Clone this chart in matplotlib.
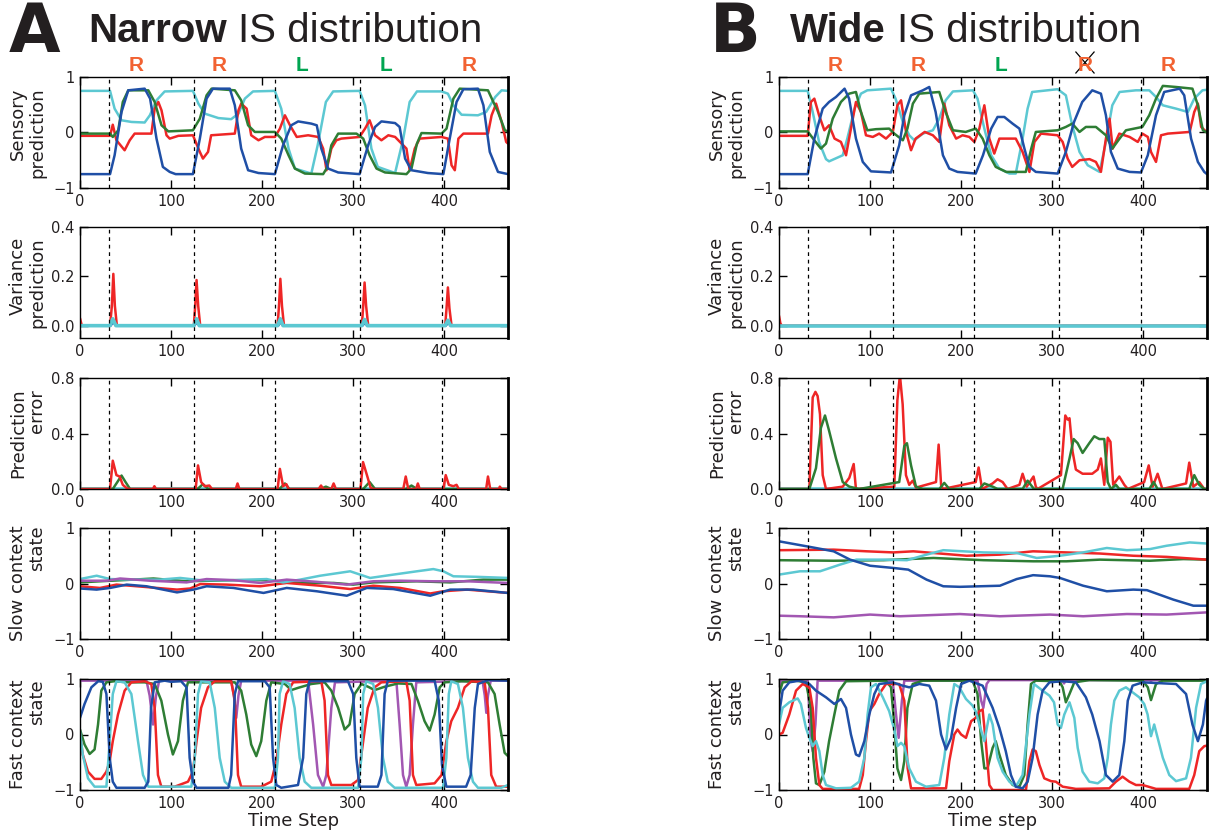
import numpy as np
import matplotlib
matplotlib.use("Agg")
import matplotlib.pyplot as plt
import matplotlib.transforms as mtransforms

plt.rcParams['font.family'] = ['DejaVu Sans']
plt.rcParams['axes.unicode_minus'] = True

# ---------------- data ----------------
x_ticks = [0, 100, 200, 300, 400]
x_max = 470
switch_steps = [32, 125, 214, 307, 398]
cue_steps = [62, 153, 244, 336, 427]
cues_A = ['R', 'R', 'L', 'L', 'R']
cues_B = ['R', 'R', 'L', 'R', 'R']
crossed_B = [False, False, False, True, False]

# Panel A - sensory prediction
A_sens_cyan = [(0,.75),(33,.75),(38,.43),(45.6,.22),(56.6,.19),(71,.18),(76.7,.31),(84,.58),(93,.74),(124,.75),(130,.52),(137,.34),(152,.26),(166,.24),(174,.34),(181,.61),(190,.74),(214,.75),(221,.43),(229,-.29),(236,-.65),(254,-.74),(261,-.23),(270,.55),(278,.74),(307,.75),(313,.49),(320,-.29),(327,-.62),(346,-.73),(355,-.11),(362,.55),(370,.74),(397,.74),(404,.70),(410,.49),(419,.32),(437,.31),(446,.37),(456,.64),(463,.76),(470,.75)]
A_sens_blue = [(0,-.75),(33,-.75),(38,-.41),(45.6,.37),(53,.76),(71,.79),(77,.61),(84,-.11),(91,-.62),(98.5,-.71),(105,-.75),(124,-.75),(131.6,-.11),(139,.61),(146,.79),(164.5,.79),(170,.49),(177,-.29),(184.6,-.68),(196,-.73),(214,-.75),(223,-.23),(232,.13),(239.6,.2),(254,.16),(260,.13),(265,-.29),(272.5,-.65),(283.5,-.72),(307,-.75),(316.4,-.23),(324,.10),(331,.2),(346,.17),(351,.10),(357,-.47),(364,-.68),(382,-.73),(399,-.75),(406,-.11),(413.5,.55),(421,.78),(437,.79),(443,.49),(450,-.35),(459,-.71),(470,-.75)]
A_sens_green = [(0,-.02),(33,-.02),(36,-.08),(42,.04),(47,.55),(53,.76),(75,.76),(82,.55),(89.5,.13),(97,.02),(124,.04),(131.6,.25),(139,.67),(144.5,.79),(170,.76),(177,.58),(184.6,.13),(192,.01),(214,.01),(221,-.11),(229,-.41),(236,-.65),(247,-.74),(267,-.75),(270.7,-.65),(276,-.23),(283.5,-.02),(303.6,-.02),(311,-.11),(318,-.41),(325.6,-.65),(335,-.72),(358.5,-.75),(364,-.65),(370,-.2),(375,-.01),(397,-.02),(402.5,.07),(410,.61),(417,.79),(448,.76),(459,.37),(466.6,.04),(470,.02)]
A_sens_red = [(0,-.06),(33,-.06),(36,.14),(40,-.14),(49,-.32),(54.6,-.14),(60,-.02),(78.4,-.02),(82,.43),(86,.55),(89.5,.40),(95,-.05),(98.5,-.11),(108,-.06),(124,-.05),(131.6,-.35),(135,-.47),(140.6,-.35),(144,-.05),(170,-.02),(174,.40),(177,.52),(183,.43),(188,-.05),(196,-.14),(203,-.08),(214,-.08),(219.5,.07),(225,.31),(230.6,.13),(238,-.08),(250.5,-.05),(261.5,-.08),(267,-.29),(270.7,-.68),(276,-.29),(281.5,-.14),(287,-.11),(307,-.08),(313,.07),(318,.22),(324,-.05),(331,-.14),(338.6,-.05),(346,-.08),(358.5,-.29),(362,-.68),(367.6,-.29),(373,-.11),(397,-.08),(404,-.11),(408,-.59),(411.6,-.68),(415.5,-.11),(421,-.02),(448,-.02),(452,.31),(457,.52),(463,.19),(468,-.17),(470,-.2)]

# Panel B - sensory prediction
B_sens_cyan = [(0,.75),(31.5,.75),(37,.37),(44,-.17),(51.6,-.48),(55,-.52),(70,-.41),(75,-.11),(83,.43),(90,.70),(97,.76),(123,.79),(128,.61),(136,.19),(143,-.05),(148.6,-.14),(158,-.02),(169,.04),(176,.25),(183,.58),(191,.74),(213,.76),(218,.61),(225.5,.07),(233,-.41),(242,-.65),(253,-.74),(260,-.74),(267.5,-.11),(273,.43),(278,.73),(306,.78),(315,.67),(322,.13),(330,-.35),(339,-.59),(352,-.71),(359,-.17),(366,.49),(374,.73),(392,.76),(406.6,.76),(414,.64),(421.5,.49),(436,.43),(449,.37),(456,.61),(465,.76),(470,.77)]
B_sens_blue = [(0,-.75),(31.5,-.75),(38.8,-.11),(48,.43),(55,.55),(62.6,.64),(72,.79),(77,.61),(84.5,-.11),(92,-.53),(101,-.70),(123,-.72),(132,-.23),(137.6,.31),(145,.67),(158,.76),(165,.82),(172,.37),(180,-.41),(187,-.65),(196,-.71),(216,-.74),(224,-.41),(233,.07),(240,.28),(247.4,.28),(256.5,.16),(264,.07),(269.5,-.29),(275,-.62),(282,-.71),(306,-.74),(315,-.35),(324,.19),(333,.55),(344,.76),(353.5,.70),(359,.31),(364.5,-.35),(372,-.65),(385,-.71),(397.5,-.72),(405,-.41),(414,.31),(423,.73),(440,.79),(445,.67),(452.5,-.11),(460,-.53),(467,-.71),(470,-.75)]
B_sens_green = [(0,.02),(31.5,.02),(38.8,-.14),(46,-.29),(51.6,-.2),(59,.25),(68,.55),(77,.70),(84.5,.73),(90,.37),(97,.04),(106.5,.06),(121,.07),(126.6,-.02),(136,-.14),(141,.07),(147,.52),(154,.70),(176,.73),(183,.37),(191,.04),(205,.01),(216,.07),(223.6,-.11),(231,-.41),(238,-.62),(249.5,-.71),(271,-.71),(277,-.29),(282,.01),(306,.04),(315,.10),(322,.16),(330,.01),(337,.10),(348,.10),(359,-.05),(366,-.29),(374,-.11),(381,.04),(399,.10),(406.6,.31),(414,.61),(421.5,.84),(436,.82),(454,.79),(460,.49),(465.5,.04),(470,0)]
B_sens_red = [(0,-.06),(31.5,-.06),(35,.55),(38.8,.61),(44,.31),(49.8,.04),(55,.13),(61,-.11),(68,-.17),(73.6,-.41),(79,.07),(84.5,.55),(90,.37),(95.5,-.05),(103,-.08),(110,-.02),(117.5,-.11),(125,.01),(130,.49),(134,.58),(139.5,.01),(145,-.32),(150,-.11),(160,.01),(169,-.05),(176,-.17),(181.5,.52),(187,.13),(194.5,-.11),(201.6,-.05),(209,-.08),(214.5,-.17),(220,.07),(225.5,.49),(231,-.11),(236.4,-.38),(242,-.11),(260,-.11),(267.5,-.35),(275,-.71),(280.5,-.17),(287.7,-.02),(306,-.05),(311.5,-.17),(317,-.47),(322,-.62),(330,-.50),(341,-.48),(348,-.53),(353.5,-.71),(359,-.11),(363,.25),(366.4,-.29),(373.7,-.02),(385,-.08),(394,-.17),(399,-.02),(405,-.08),(408.5,-.35),(414,-.53),(419.5,-.05),(427,-.02),(451,.01),(456,.37),(460,.52),(463.6,.10),(470,0)]

# Panel A - variance prediction
A_var_red = [(0,.03),(2,0),(33,0),(35,.08),(36.6,.21),(38.3,.08),(40.5,0),(125,0),(126.5,.08),(128,.185),(129.8,.08),(132,0),(217,0),(218.5,.08),(220,.19),(221.8,.08),(224,0),(309.5,0),(311,.08),(312.5,.175),(314.2,.08),(316.5,0),(401,0),(402.5,.07),(404,.155),(405.7,.07),(408,0),(470,0)]
A_var_cyan = [(0,0),(33,0),(36,.028),(39.5,0),(125,0),(128,.028),(131,0),(217,0),(220,.028),(223,0),(309.5,0),(312.5,.025),(315.5,0),(401,0),(404,.022),(407,0),(470,0)]
A_var_blue = [(0,0),(33.5,0),(36.5,.015),(39.5,0),(125.5,0),(128.5,.015),(131,0),(217.5,0),(220.5,.015),(223,0),(310,0),(313,.012),(315.5,0),(401.5,0),(404.5,.012),(407,0),(470,0)]
B_var_red = [(0,.04),(1.5,.01),(3,0),(470,0)]
B_var_cyan = [(0,0),(470,0)]

# Panel A - prediction error
A_err_red = [(0,0),(33,0),(36,.204),(40,.10),(43.5,.09),(47,.03),(50.6,.01),(53,0),(80,0),(81.7,.02),(83.5,0),(127,0),(129.6,.17),(133,.05),(137,.02),(142,.025),(145,0),(171,0),(173,.04),(175,0),(217,0),(219.5,.145),(223,.02),(226.6,.035),(229,0),(262,0),(264.7,.025),(267,0),(276,0),(278.5,.04),(281,0),(308,0),(310.8,.194),(316,.08),(319,.01),(322,0),(355,0),(357.7,.09),(360.5,0),(369,0),(371,.04),(373,0),(399,0),(401.6,.10),(405,.03),(410,.02),(413.5,.03),(416,0),(446,0),(448,.09),(450.5,0),(460,0),(461,.017),(463,0),(470,0)]
A_err_green = [(0,0),(36,0),(41,.05),(45.6,.097),(50,.05),(55,0),(129,0),(135,.035),(141,0),(219,0),(225,.04),(230,0),(264,0),(270,.017),(276,0),(311,0),(318,.05),(324,0),(358,0),(364,.025),(370,0),(470,0)]
A_err_cyan = [(0,0),(470,0)]

# Panel B - prediction error
B_err_red = [(0,0),(33.3,0),(37,.66),(40,.70),(42.4,.67),(45,.54),(48,.10),(51.6,0),(70,.017),(77.2,.08),(82,.18),(84.5,0),(126.6,.017),(130,.64),(132.8,.82),(135.8,.61),(139.4,.10),(143,.03),(146.8,.06),(150.4,.01),(172.4,.05),(175.3,.32),(178,.03),(180,0),(216,.05),(219.2,.155),(223,0),(234.6,.04),(240,.07),(245.6,.05),(251,0),(264,.03),(267.5,.11),(272,.017),(279.5,.09),(282,.017),(284,0),(309.6,.10),(314.4,.53),(317,.50),(319,.51),(322.4,.27),(326,.14),(333.4,.11),(344,.11),(350,.14),(353.5,.22),(357.2,.03),(361,.37),(364,.34),(367,.03),(373.7,.09),(379.2,.03),(383,0),(401,.05),(406,.17),(410.3,.017),(415.8,.11),(421,0),(447,.04),(450.5,.19),(455,.017),(461.5,.05),(467,0),(470,0)]
B_err_green = [(0,0),(33.3,0),(40.6,.15),(46,.44),(50.5,.53),(55,.42),(62.6,.22),(70,.05),(77.2,.017),(88,0),(132,.05),(137.6,.31),(140.5,.33),(145,.17),(150.4,.017),(158,0),(176,0),(181.5,.044),(187,0),(220,0),(225.5,.04),(234.6,.017),(240,0),(267.5,0),(273,.06),(280,0),(311.4,0),(319,.22),(323.6,.36),(328,.33),(333.4,.26),(340.7,.33),(346.2,.38),(351.7,.36),(357.2,.36),(361,.05),(364.5,0),(370,.03),(373.7,0),(406.6,0),(411.4,.05),(415.8,0),(450.5,0),(456,.10),(461.5,.03),(467,0),(470,0)]
B_err_cyan = [(0,0),(470,0)]

# Panel A - slow context state
A_slow_cyan = [(0,.08),(18.3,.14),(33,.08),(58.6,.07),(88,.07),(110,.10),(132,.06),(168.5,.06),(205,.08),(223,.02),(241.8,.07),(263.7,.14),(296.7,.22),(307.6,.16),(318.6,.10),(344,.16),(370,.22),(388,.26),(399,.22),(410,.13),(436,.12),(470,.10)]
A_slow_purple = [(0,.05),(29.3,.05),(44,.09),(77,.05),(117,.02),(139,.08),(168.5,.06),(198,.01),(227,.07),(260,.03),(293,-.02),(322,.04),(351.6,.05),(388,.04),(425,.04),(470,.01)]
A_slow_green = [(0,.02),(22,.04),(58.6,.07),(80.6,.09),(117,.04),(168.5,.06),(205,.06),(241.8,.01),(278.5,.01),(300,-.02),(322,.02),(370,.04),(406.6,.02),(443,.07),(470,.07)]
A_slow_red = [(0,-.05),(22,-.08),(40,-.02),(70,-.06),(106.5,-.11),(121,-.09),(132,-.01),(161,-.02),(198,-.05),(227,.01),(263.7,-.04),(296.7,-.10),(322,-.04),(351.6,-.08),(384.6,-.18),(399,-.14),(425,-.11),(470,-.17)]
A_slow_blue = [(0,-.09),(18.3,-.11),(33,-.08),(51.3,-.02),(73,-.05),(106.5,-.16),(124.6,-.11),(139,-.05),(168.5,-.08),(201.5,-.17),(227,-.08),(260,-.14),(293,-.22),(315,-.08),(344,-.10),(384.6,-.22),(406.6,-.11),(432,-.11),(470,-.17)]

# Panel B - slow context state
B_slow_blue = [(0,.76),(30.4,.67),(60,.58),(78,.43),(100,.32),(125.5,.28),(142,.25),(162,.07),(180.4,-.05),(198.7,-.06),(242.6,-.04),(261,.08),(279,.15),(297.5,.13),(308.5,.10),(334,-.04),(360,-.14),(389,-.11),(404,-.12),(433,-.29),(455,-.40),(470,-.40)]
B_slow_red = [(0,.60),(60,.61),(96.5,.58),(125.5,.56),(147.5,.58),(177,.54),(206,.50),(242.6,.52),(279,.58),(315.7,.56),(352.4,.54),(389,.50),(425.6,.48),(470,.43)]
B_slow_green = [(0,.42),(60,.41),(115,.42),(169.6,.46),(224.5,.42),(279,.40),(315.7,.40),(352.4,.43),(407.3,.41),(444,.44),(470,.43)]
B_slow_cyan = [(0,.16),(23,.22),(45,.22),(67,.34),(85,.43),(115,.43),(140.5,.42),(162,.52),(180.4,.60),(224.5,.56),(261,.55),(283,.46),(308.5,.50),(334,.56),(360,.64),(382,.60),(407.3,.62),(425.6,.68),(451,.74),(470,.72)]
B_slow_purple = [(0,-.58),(23,-.59),(60,-.61),(100,-.56),(133,-.59),(198.7,-.55),(242.6,-.59),(297.5,-.56),(334,-.59),(382,-.55),(425.6,-.56),(470,-.52)]

# Panel A - fast context state
A_fast_blue = [(0,.30),(5,.55),(12.5,.85),(20,.96),(25,.95),(29,.73),(32.6,-.42),(36,-.85),(40,-.96),(71,-.96),(75,-.85),(78,.48),(82,.94),(93,.97),(100,.95),(111,.96),(117,.85),(120.4,-.42),(124,-.85),(128,-.96),(163,-.96),(166,-.73),(170,.73),(173.5,.96),(203,.96),(208.3,.85),(212,-.42),(215.6,-.91),(221,-.96),(239.4,-.91),(245,-.42),(248.5,.73),(252,.96),(294.3,.96),(300,.73),(303.4,-.42),(307,-.94),(327,-.94),(331,-.73),(334.5,.73),(338,.97),(389.4,.97),(394,.61),(397.5,-.55),(402.3,-.94),(424,-.94),(429,-.73),(433.5,.48),(437,.91),(448,.98),(470,.97)]
A_fast_red = [(0,0),(3,-.36),(8.8,-.67),(16,-.80),(23.4,-.80),(29,-.67),(32.6,-.48),(36,-.12),(41.7,.36),(49,.79),(56.4,.94),(71,.96),(78.3,.91),(82,.48),(85.6,-.73),(89.3,-.94),(104,-.94),(118.6,-.85),(124,-.67),(128,-.12),(133,.48),(140.5,.85),(148,.96),(166,.96),(170,.61),(173.5,-.73),(177,-.94),(199,-.94),(210,-.85),(215.6,-.48),(221,.18),(226.6,.73),(234,.94),(265,.96),(268.6,.61),(272.3,-.73),(276,-.91),(298,-.91),(305.3,-.82),(311,-.12),(316,.48),(323.5,.85),(331,.94),(358.3,.96),(362,.61),(365.6,-.73),(369.3,-.91),(389.4,-.88),(397,-.73),(402.3,-.12),(407.7,.24),(415,.48),(422.4,.85),(430,.96),(444.3,.94),(448,.48),(451.6,-.73),(457,-.94),(470,-.94)]
A_fast_cyan = [(0,.06),(3,-.36),(8.8,-.79),(16,-.94),(29,-.94),(32.6,-.12),(36,.73),(40,.96),(49,.94),(56.4,.73),(63.7,-.12),(69.2,-.73),(75,-.94),(122.3,-.94),(126,-.42),(129.6,.73),(133,.96),(142.4,.94),(148,.48),(153.4,-.42),(159,-.85),(166,-.96),(214,-.96),(217.4,-.42),(219.2,.73),(223,.96),(230.2,.91),(235.7,.48),(241.2,-.42),(246.7,-.85),(254,-.96),(305.3,-.96),(309,-.42),(311,.73),(314.4,.96),(322,.91),(327.2,.48),(332.7,-.42),(338,-.85),(345.5,-.96),(398.6,-.96),(402.3,-.42),(405,.73),(407.7,.96),(415,.91),(420.5,.48),(426,-.42),(431.5,-.85),(437,-.96),(462.6,-.96),(470,-.91)]
A_fast_green = [(0,.09),(5,-.18),(10.6,-.35),(16,-.27),(19.8,.18),(23.4,.79),(29,.94),(38,.96),(52.7,.94),(71,.94),(82,.91),(89.3,.61),(96.6,0),(102,-.36),(107.6,-.12),(113,.61),(118.6,.94),(170,.94),(177,.79),(182.6,.36),(188,-.18),(193.6,-.39),(199,-.12),(204.6,.61),(210,.94),(225,.91),(232,.80),(239.4,.84),(254,.91),(268.6,.94),(276,.79),(283.5,.48),(290.6,.09),(296,.18),(301.6,.73),(309,.91),(316.4,.86),(323.5,.80),(334.5,.86),(349.2,.92),(364,.91),(371,.61),(378.4,.24),(384,.07),(389.4,.36),(395,.85),(400.4,.94),(419,.96),(448,.94),(455.3,.73),(460.8,.18),(466.3,-.33),(470,-.39)]
A_fast_purple = [(0,.97),(73,.97),(76.5,.7),(80.2,.18),(83.5,.7),(87,.97),(166,.97),(169,.7),(171.6,.30),(174,.7),(177,.97),(250.5,.97),(256,.18),(261.3,-.73),(267,-.94),(270.5,-.73),(276,.48),(280,.94),(347.4,.97),(351,.18),(354.7,-.73),(358.3,-.94),(362,-.73),(365.6,.18),(369.3,.94),(442,.97),(444.5,.7),(446.2,.39),(448,.7),(451,.97),(470,.97)]

# Panel B - fast context state
B_fast_red = [(0,0),(4,.03),(11.3,.36),(18.7,.79),(26,.91),(33.3,.85),(37,.48),(40.6,-.42),(44.3,-.91),(48,-.98),(88,-.98),(92,-.73),(95.5,-.12),(99.2,.42),(104.7,.55),(110,.73),(117.5,.91),(132,.91),(137.6,.61),(141.3,-.61),(145,-.97),(183.4,-.97),(187,-.48),(192.5,0),(196,.09),(200,0),(205.3,-.06),(211,.24),(216,.30),(220,.42),(223.6,.45),(227,-.12),(231,-.91),(234.6,-1.0),(271.2,-1.0),(275,-.48),(278.5,-.27),(282,-.30),(286,-.55),(291.3,-.79),(298.7,-.84),(304,-.85),(311.5,-.94),(326,-.98),(362.7,-.97),(370,-.85),(377.3,-.76),(384.7,-.85),(392,-.91),(399.3,-.91),(414,-.98),(450.5,-.98),(456,-.73),(461.5,-.30),(467,-.21),(470,-.2)]
B_fast_blue = [(0,.36),(4,.79),(11.3,.94),(22.3,.97),(33.3,.91),(40.6,.79),(51.6,.67),(60.8,.55),(68,.64),(73.6,.48),(79,0),(84.5,-.36),(88,-.39),(93.7,-.12),(99.2,.36),(104.7,.73),(110,.91),(124.8,.94),(135.8,.88),(143,.85),(154,.91),(165,.88),(172.4,.61),(178,0),(183.4,-.27),(189,-.06),(194.5,.48),(200,.91),(209,.97),(223.6,.88),(234.6,.48),(242,.12),(249,-.30),(254.7,-.73),(260,-.94),(267.5,-.97),(273,-.85),(278.5,-.42),(284,.36),(289.5,.79),(297,.94),(311.5,.96),(326,.94),(337,.67),(344,.36),(352,-.12),(359,-.73),(366.4,-.85),(373.7,-.73),(379.2,-.12),(383,.61),(388.3,.88),(399.3,.94),(436,.91),(447,.73),(454,.18),(460,-.12),(465.5,.18),(469,.61),(470,.65)]
B_fast_green = [(0,.73),(4,.94),(18.7,.97),(29.6,.94),(35,.48),(37.7,-.42),(40.6,-.88),(44.3,-.91),(49.8,-.67),(55,-.12),(60.8,.36),(66.2,.79),(73.6,.96),(117.5,.97),(123,.85),(126.6,.18),(130,-.61),(134,-.82),(137.6,-.48),(141,.48),(146.8,.91),(158,.97),(212.6,.97),(218,.73),(222,-.12),(225.5,-.61),(229,-.61),(234.6,-.24),(238,-.12),(242,-.36),(249,-.73),(256.6,-.91),(264,-.94),(269.4,-.73),(273,.18),(276.7,.91),(282,.97),(308,.96),(311.5,.85),(315,.58),(319,.73),(324.3,.94),(340.7,.98),(399.3,.97),(405,.85),(408.5,.62),(414,.91),(421.5,.97),(470,.97)]
B_fast_cyan = [(0,.18),(4,.48),(11.3,.58),(20.5,.65),(24,.55),(29.6,.12),(33.3,-.06),(37,-.21),(40.6,-.12),(44.3,-.30),(48,-.73),(51.6,-.91),(62.6,-.97),(79,-.96),(88,-.85),(93.7,-.42),(97.3,.36),(101,.85),(106.5,.91),(114,.67),(121,.42),(126.6,.09),(130,-.21),(134,-.15),(137.6,-.21),(143,-.61),(150.4,-.85),(161.4,-.94),(176,-.91),(181.5,-.42),(187,.36),(192.5,.91),(198,.85),(205.3,.64),(212.6,.52),(216,.42),(220,.18),(225.5,-.12),(231,.36),(234.6,.18),(240,-.42),(245.6,-.67),(253,-.85),(260,-.94),(267.5,-.73),(275,.36),(280,.91),(289.5,.79),(297,.70),(302,.58),(306,.18),(309.6,.12),(313.3,.36),(319,.58),(324.3,.30),(328,-.24),(333.4,-.67),(340.7,-.85),(350,-.88),(357.2,-.79),(361,-.42),(364.5,.18),(368.2,.61),(373.7,.79),(381,.85),(388.3,.76),(395.6,.67),(401,.55),(404.8,.36),(408.5,-.03),(412,.18),(415.8,-.06),(421.5,-.42),(428.6,-.73),(436,-.84),(447,-.79),(452.4,-.42),(458,.48),(463.4,.91),(470,.96)]
B_fast_purple = [(0,.7),(2,.97),(31.5,.97),(35,-.12),(37,-.30),(40,.18),(42.4,.97),(124.8,.97),(128.5,.36),(131.4,-.06),(135,.61),(137.6,.97),(218,.97),(222,.61),(224.4,.48),(228,.91),(231,.98),(311,.98),(313,.92),(315,.98),(407,.98),(408.5,.96),(410,.98),(470,.98)]

# ---------------- styling ----------------
RED = '#ee2626'
GREEN = '#2e7d34'
BLUE = '#1f4fa6'
CYAN = '#5cc8d2'
PURPLE = '#a257b2'
R_COL = '#f26232'
L_COL = '#00a551'
INK = '#231f20'

W, H = 1212, 834
fig = plt.figure(figsize=(W / 100, H / 100), dpi=100)

row_tops = [77, 227, 378, 528, 679]
row_h = 111
col_lefts = [80, 779]
ax_w = 428

ylabels = ['Sensory\nprediction', 'Variance\nprediction', 'Prediction\nerror',
           'Slow context\nstate', 'Fast context\nstate']
ylims = [(-1, 1), (-0.05, 0.4), (0, 0.8), (-1, 1), (-1, 1)]
yticks = [[-1, 0, 1], [0.0, 0.2, 0.4], [0.0, 0.4, 0.8], [-1, 0, 1], [-1, 0, 1]]
yfmt = ['{:g}', '{:.1f}', '{:.1f}', '{:g}', '{:g}']

panels = {
    0: [  # A
        [(A_sens_cyan, CYAN), (A_sens_red, RED), (A_sens_green, GREEN), (A_sens_blue, BLUE)],
        [(A_var_red, RED), (A_var_blue, BLUE), (A_var_cyan, CYAN)],
        [(A_err_cyan, CYAN), (A_err_green, GREEN), (A_err_red, RED)],
        [(A_slow_green, GREEN), (A_slow_red, RED), (A_slow_blue, BLUE), (A_slow_cyan, CYAN), (A_slow_purple, PURPLE)],
        [(A_fast_purple, PURPLE), (A_fast_green, GREEN), (A_fast_red, RED), (A_fast_cyan, CYAN), (A_fast_blue, BLUE)],
    ],
    1: [  # B
        [(B_sens_cyan, CYAN), (B_sens_red, RED), (B_sens_green, GREEN), (B_sens_blue, BLUE)],
        [(B_var_red, RED), (B_var_cyan, CYAN)],
        [(B_err_cyan, CYAN), (B_err_red, RED), (B_err_green, GREEN)],
        [(B_slow_green, GREEN), (B_slow_red, RED), (B_slow_cyan, CYAN), (B_slow_blue, BLUE), (B_slow_purple, PURPLE)],
        [(B_fast_purple, PURPLE), (B_fast_green, GREEN), (B_fast_red, RED), (B_fast_cyan, CYAN), (B_fast_blue, BLUE)],
    ],
}

axes_grid = {}
for c, left in enumerate(col_lefts):
    for r, top in enumerate(row_tops):
        ax = fig.add_axes([left / W, 1 - (top + row_h) / H, ax_w / W, row_h / H])
        axes_grid[(c, r)] = ax
        for pts, col in panels[c][r]:
            a = np.array(pts)
            lw = 2.6 if (r in (1, 2) and col == CYAN) else 1.8
            ax.plot(a[:, 0], a[:, 1], color=col, lw=lw, solid_joinstyle='round',
                    solid_capstyle='round')
        for s in switch_steps:
            ax.axvline(s, color='black', lw=0.9, ls=(0, (3, 3)), zorder=5)
        ax.set_xlim(0, x_max)
        ax.set_ylim(*ylims[r])
        ax.set_xticks(x_ticks)
        ax.set_yticks(yticks[r])
        ax.set_yticklabels([yfmt[r].format(v).replace('-', '\u2212') for v in yticks[r]])
        ax.tick_params(direction='in', top=True, right=True, length=6, width=1,
                       labelsize=10.5, pad=4, colors='black', labelcolor=INK)
        for sp in ax.spines.values():
            sp.set_linewidth(1.0)
        ax.spines['right'].set_linewidth(2.0)
        ax.set_ylabel(ylabels[r], fontsize=13, multialignment='right', linespacing=1.1,
                      color=INK)
        ax.yaxis.set_label_coords(-0.079, 0.5)
    axes_grid[(c, 4)].set_xlabel('Time Step' if c == 0 else 'Time step', fontsize=13,
                                 labelpad=1, color=INK)

# cue letters above the top panels
for c, cues in enumerate([cues_A, cues_B]):
    ax = axes_grid[(c, 0)]
    trans = mtransforms.blended_transform_factory(ax.transData, ax.transAxes)
    for i, (xv, lab) in enumerate(zip(cue_steps, cues)):
        ax.text(xv, 1.105, lab, transform=trans, ha='center', va='center',
                fontsize=15, fontweight='bold', family='Liberation Sans',
                color=R_COL if lab == 'R' else L_COL)
        if c == 1 and crossed_B[i]:
            ax.plot([xv - 10, xv + 10], [1.225, 1.036], transform=trans, color='black',
                    lw=0.9, clip_on=False)
            ax.plot([xv - 10, xv + 10], [1.036, 1.225], transform=trans, color='black',
                    lw=0.9, clip_on=False)

# panel titles
for letter, bold_word, lx, tx in [('A', 'Narrow', 9, 88), ('B', 'Wide', 710, 790)]:
    fig.text(lx / W, 1 - 52 / H, letter, fontsize=48, fontweight='bold',
             family='DejaVu Sans', va='baseline', ha='left', color=INK)
    t = fig.text(tx / W, 1 - 42 / H, bold_word, fontsize=29, fontweight='bold',
                 family='Liberation Sans', va='baseline', ha='left', color=INK)
    fig.canvas.draw()
    bb = t.get_window_extent(renderer=fig.canvas.get_renderer())
    fig.text((bb.x1 + 11) / W, 1 - 42 / H, 'IS distribution', fontsize=29,
             family='Liberation Sans', va='baseline', ha='left', color=INK)

fig.savefig('out.png', dpi=100)
